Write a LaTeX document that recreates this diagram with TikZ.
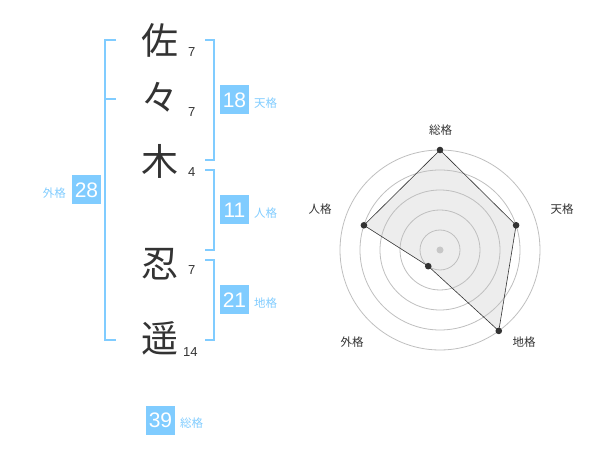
\documentclass[tikz,border=0pt]{standalone}
\usepackage{fontspec}
\setmainfont{Liberation Sans}
\newfontfamily\jp{Noto Sans CJK JP}
\usetikzlibrary{calc}
\definecolor{skyb}{HTML}{80CCFF}
\definecolor{ink}{HTML}{333333}
\tikzset{
  kanji/.style={font=\jp\fontsize{37}{37}\selectfont, text=ink, inner sep=0pt},
  strokes/.style={font=\fontsize{13}{13}\selectfont, text=ink, inner sep=0pt, anchor=west},
  badge/.style={fill=skyb, text=white, minimum size=29pt, inner sep=0pt,
    font=\fontsize{21}{21}\selectfont},
  kaku/.style={font=\jp\fontsize{11.5}{12}\selectfont, text=skyb, inner sep=0pt},
  bracket/.style={draw=skyb, line width=2pt},
  ring/.style={draw=black!25, line width=0.8pt},
  axislabel/.style={font=\jp\fontsize{11.5}{12}\selectfont, text=ink, inner sep=0pt},
}
\begin{document}
\begin{tikzpicture}[x=1pt,y=-1pt]
\useasboundingbox (0,0) rectangle (600,470);
% name characters and stroke counts
\node [kanji] (c1) at (160,40) {佐};
\node [kanji] (c2) at (160,97) {々};
\node [kanji] (c3) at (160,161) {木};
\node [kanji] (c4) at (160,264) {忍};
\node [kanji] (c5) at (160,338) {遥};
\node [strokes] (n1) at (188,52) {7};
\node [strokes] (n2) at (188,112) {7};
\node [strokes] (n3) at (188,172) {4};
\node [strokes] (n4) at (188,270) {7};
\node [strokes] (n5) at (183,352) {14};
% brackets
\draw [bracket] (116,40) -- (105,40) -- (105,340) -- (116,340);
\draw [bracket] (105,99) -- (116,99);
\draw [bracket] (205,40) -- (214,40) -- (214,160) -- (205,160);
\draw [bracket] (205,170) -- (214,170) -- (214,250) -- (205,250);
\draw [bracket] (205,260) -- (214,260) -- (214,340) -- (205,340);
% badges
\node [badge] (ten) at (234.5,100) {18};
\node [kaku, anchor=west] (tenl) at (254,103) {天格};
\node [badge] (jin) at (234.5,210) {11};
\node [kaku, anchor=west] (jinl) at (254,213) {人格};
\node [badge] (chi) at (234.5,300) {21};
\node [kaku, anchor=west] (chil) at (254,303) {地格};
\node [badge] (gai) at (86.5,190) {28};
\node [kaku, anchor=east] (gail) at (66,193) {外格};
\node [badge] (sou) at (160.5,420) {39};
\node [kaku, anchor=west] (soul) at (180,423) {総格};
% radar chart
\coordinate (o) at (440,250);
\coordinate (psou) at ($(o)+(-90:100)$);
\coordinate (pten) at ($(o)+(-18:80)$);
\coordinate (pchi) at ($(o)+(54:100)$);
\coordinate (pgai) at ($(o)+(126:20)$);
\coordinate (pjin) at ($(o)+(198:80)$);
\fill [black!7] (psou) -- (pten) -- (pchi) -- (pgai) -- (pjin) -- cycle;
\foreach \r in {20,40,60,80,100}
  \draw [ring] (o) circle [radius=\r];
\draw [draw=ink, line width=0.6pt]
  (psou) -- (pten) -- (pchi) -- (pgai) -- (pjin) -- cycle;
\foreach \p in {psou,pten,pchi,pgai,pjin}
  \fill [ink] (\p) circle [radius=3.3];
\fill [black!22] (o) circle [radius=3.5];
\node [axislabel] (lsou) at (440.5,130) {総格};
\node [axislabel] (lten) at (562,209) {天格};
\node [axislabel] (ljin) at (320,209) {人格};
\node [axislabel] (lgai) at (352,342) {外格};
\node [axislabel] (lchi) at (524,342) {地格};
\end{tikzpicture}
\end{document}
